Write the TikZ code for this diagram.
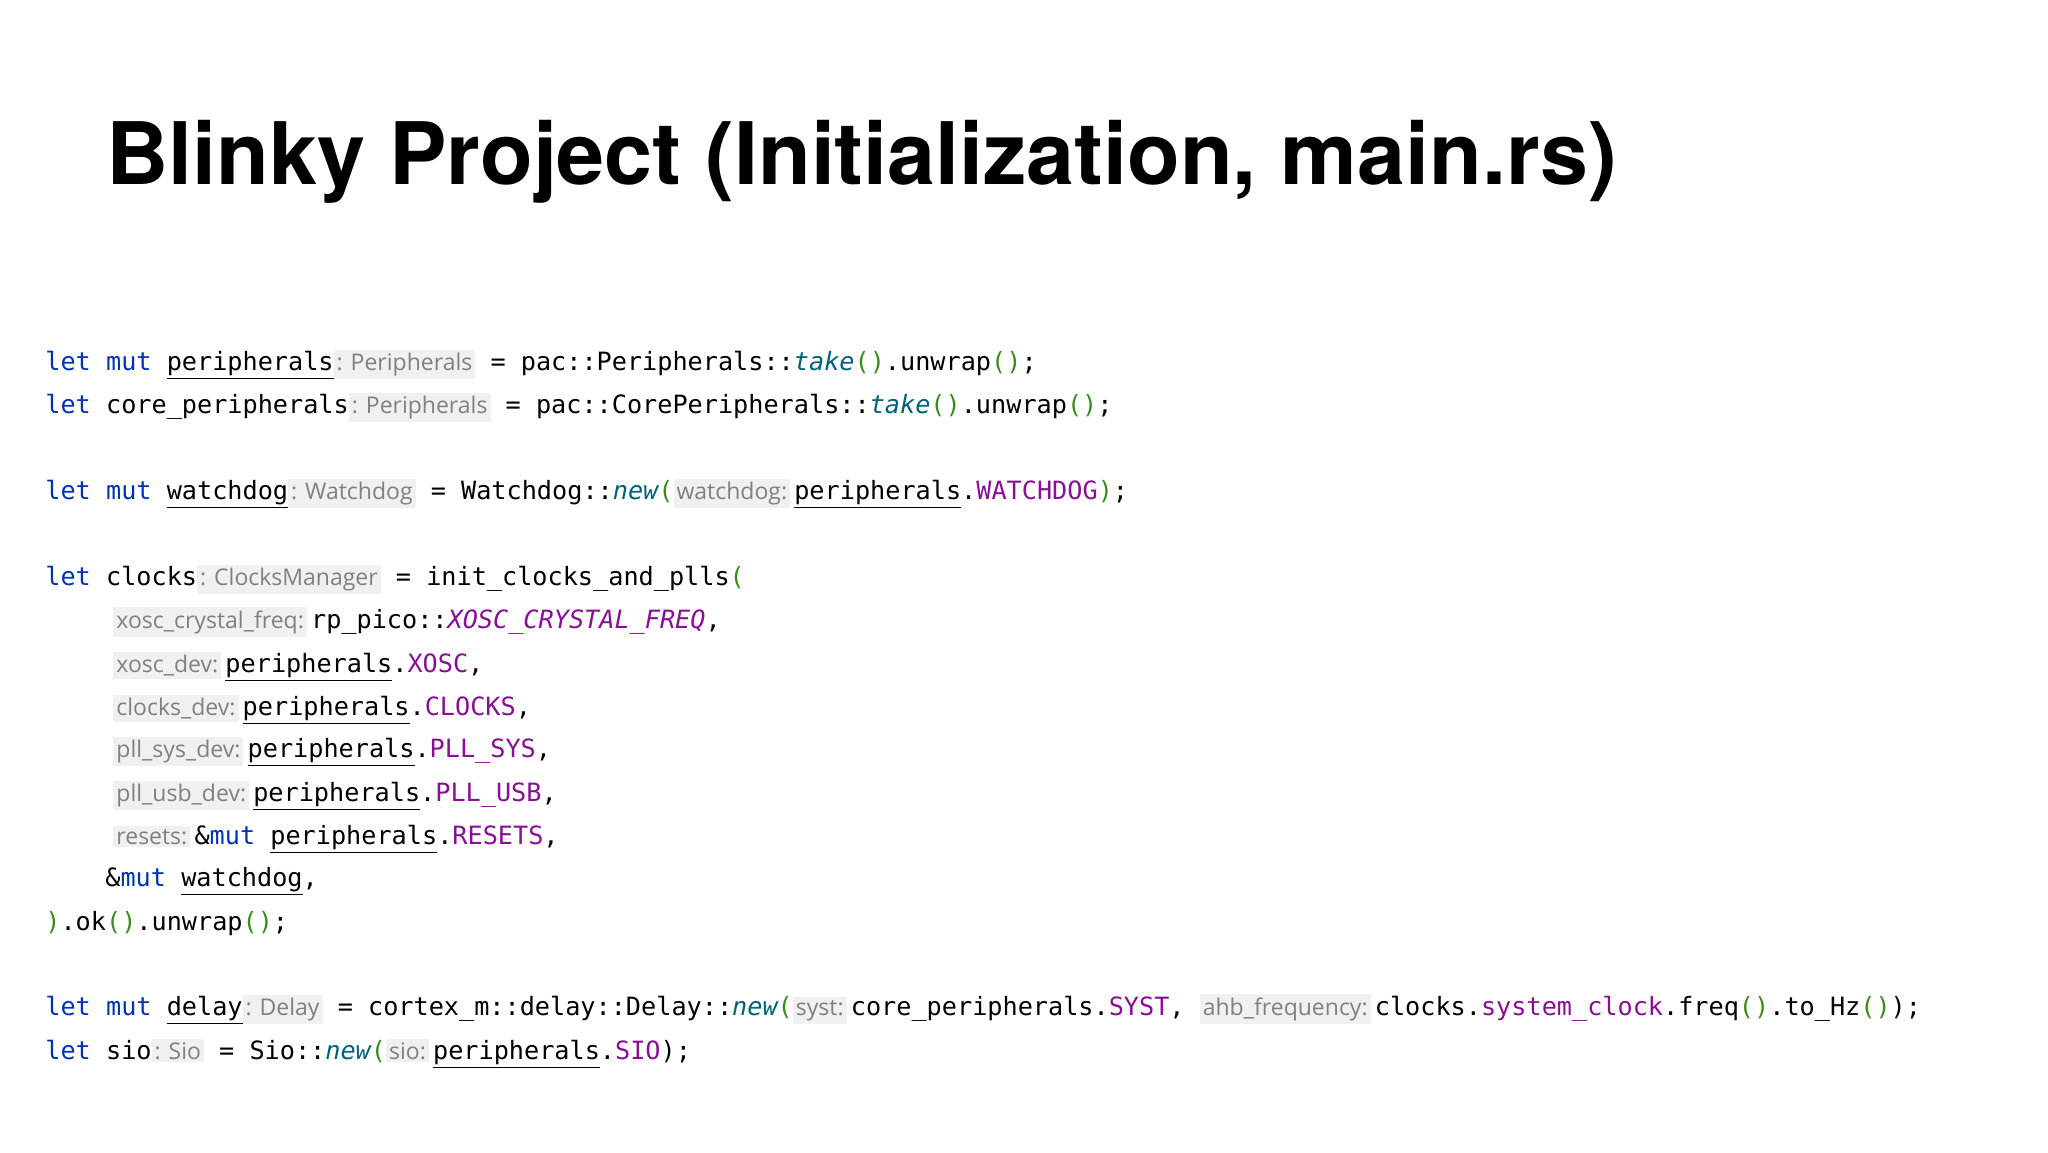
\documentclass[tikz,border=0pt]{standalone}
\usepackage{fontspec}
\setmainfont{TeX Gyre Heros}
\setmonofont{DejaVu Sans Mono}
\newfontfamily\hintfont{Open Sans}
\definecolor{kw}{HTML}{0033B3}
\definecolor{fnc}{HTML}{00627A}
\definecolor{cst}{HTML}{871094}
\definecolor{par}{HTML}{3A8A1E}
\definecolor{hintfg}{HTML}{808080}
\definecolor{hintbg}{HTML}{F0F0F0}
\newcommand\kw[1]{\textcolor{kw}{#1}}
\newcommand\fn[1]{\textcolor{fnc}{\itshape #1}}
\newcommand\cs[1]{\textcolor{cst}{#1}}
\newcommand\pp[1]{\textcolor{par}{#1}}
\newcommand\ul[1]{\underline{#1}}
\newcommand\hint[1]{{\setlength{\fboxsep}{1.5pt}\hintfont\fontsize{11.5}{13}\selectfont\colorbox{hintbg}{\textcolor{hintfg}{#1}}}}
\tikzset{code/.style={anchor=base west,inner sep=0pt,font=\ttfamily\fontsize{12.6}{14}\selectfont}}
\begin{document}
\begin{tikzpicture}[x=0.5pt,y=-0.5pt]
\useasboundingbox[fill=white] (0,0) rectangle (2048,1152);
\node[anchor=base west,inner sep=0pt] (title) at (106,184) {\resizebox{755pt}{!}{\bfseries Blinky Project (Initialization, main.rs)}};
\node[code] (l1) at (45,370) {\kw{let} \kw{mut} \ul{peripherals}\hint{: Peripherals} = pac::Peripherals::\fn{take}\pp{()}.unwrap\pp{()};};
\node[code] (l2) at (45,413) {\kw{let} core\_peripherals\hint{: Peripherals} = pac::CorePeripherals::\fn{take}\pp{()}.unwrap\pp{()};};
\node[code] (l3) at (45,499) {\kw{let} \kw{mut} \ul{watchdog}\hint{: Watchdog} = Watchdog::\fn{new}\pp{(}\hint{watchdog:}\,\ul{peripherals}.\cs{WATCHDOG}\pp{)};};
\node[code] (l4) at (45,585) {\kw{let} clocks\hint{: ClocksManager} = init\_clocks\_and\_plls\pp{(}};
\node[code] (l5) at (113,628) {\hint{xosc\_crystal\_freq:}\,rp\_pico::\cs{\itshape XOSC\_CRYSTAL\_FREQ},};
\node[code] (l6) at (113,672) {\hint{xosc\_dev:}\,\ul{peripherals}.\cs{XOSC},};
\node[code] (l7) at (113,715) {\hint{clocks\_dev:}\,\ul{peripherals}.\cs{CLOCKS},};
\node[code] (l8) at (113,757) {\hint{pll\_sys\_dev:}\,\ul{peripherals}.\cs{PLL\_SYS},};
\node[code] (l9) at (113,801) {\hint{pll\_usb\_dev:}\,\ul{peripherals}.\cs{PLL\_USB},};
\node[code] (l10) at (113,844) {\hint{resets:}\,\&\kw{mut} \ul{peripherals}.\cs{RESETS},};
\node[code] (l11) at (105,886) {\&\kw{mut} \ul{watchdog},};
\node[code] (l12) at (45,930) {\pp{)}.ok\pp{()}.unwrap\pp{()};};
\node[code] (l13) at (45,1015) {\kw{let} \kw{mut} \ul{delay}\hint{: Delay} = cortex\_m::delay::Delay::\fn{new}\pp{(}\hint{syst:}\,core\_peripherals.\cs{SYST}, \hint{ahb\_frequency:}\,clocks.\cs{system\_clock}.freq\pp{()}.to\_Hz\pp{()});};
\node[code] (l14) at (45,1059) {\kw{let} sio\hint{: Sio} = Sio::\fn{new}\pp{(}\hint{sio:}\,\ul{peripherals}.\cs{SIO});};
\end{tikzpicture}
\end{document}
